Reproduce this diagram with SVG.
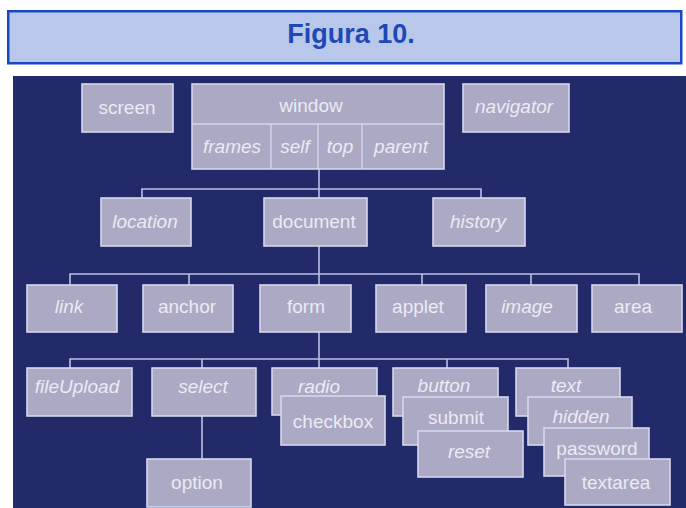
<svg xmlns="http://www.w3.org/2000/svg" width="686" height="508" viewBox="0 0 686 508">
<style>
.nb{fill:#aba9c3;stroke:#d4d7ee;stroke-width:1.6}
.t{font-family:"Liberation Sans",Arial,sans-serif;font-size:19px;fill:#eceaf4;text-anchor:middle}
.i{font-style:italic}
.c{stroke:#bcc0e4;stroke-width:1.6;fill:none}
.d{stroke:#d4d7ee;stroke-width:1.4}
</style>
<rect x="0" y="0" width="686" height="508" fill="#ffffff"/>
<g id="title">
<rect x="8.25" y="11.25" width="673" height="52" fill="#b8c7ea" stroke="#1848bf" stroke-width="2.5"/>
<text x="351" y="43" font-family="'Liberation Sans',Arial,sans-serif" font-size="27" font-weight="bold" fill="#1e49b4" text-anchor="middle">Figura 10.</text>
</g>
<rect x="13" y="76" width="673" height="432" fill="#232a6a"/>
<g id="connectors">
<path class="c" d="M319 169V198M142 198V189H481V198"/>
<path class="c" d="M319 246V285M70 285V274H639V285M189 274V285M422 274V285M531 274V285"/>
<path class="c" d="M319 332V368M70 368V359H568V368M202 359V368M447 359V368"/>
<path class="c" d="M202 416V459"/>
</g>
<g id="screen"><rect class="nb" x="82" y="84" width="91" height="48"/><text class="t" x="127" y="114">screen</text></g>
<g id="window">
<rect class="nb" x="192" y="84" width="252" height="85"/>
<line class="d" x1="192" y1="124" x2="444" y2="124"/>
<line class="d" x1="271" y1="124" x2="271" y2="169"/>
<line class="d" x1="318" y1="124" x2="318" y2="169"/>
<line class="d" x1="362" y1="124" x2="362" y2="169"/>
<text class="t" x="311" y="112">window</text>
<text class="t i" x="232" y="153">frames</text>
<text class="t i" x="295" y="153">self</text>
<text class="t i" x="340" y="153">top</text>
<text class="t i" x="401" y="153">parent</text>
</g>
<g id="navigator"><rect class="nb" x="463" y="84" width="106" height="48"/><text class="t i" x="514" y="113">navigator</text></g>
<g id="location"><rect class="nb" x="101" y="198" width="90" height="48"/><text class="t i" x="145" y="228">location</text></g>
<g id="document"><rect class="nb" x="264" y="198" width="103" height="48"/><text class="t" x="314" y="228">document</text></g>
<g id="history"><rect class="nb" x="433" y="198" width="92" height="48"/><text class="t i" x="478" y="228">history</text></g>
<g id="link"><rect class="nb" x="27" y="285" width="90" height="47"/><text class="t i" x="69" y="313">link</text></g>
<g id="anchor"><rect class="nb" x="143" y="285" width="90" height="47"/><text class="t" x="187" y="313">anchor</text></g>
<g id="form"><rect class="nb" x="260" y="285" width="91" height="47"/><text class="t" x="306" y="313">form</text></g>
<g id="applet"><rect class="nb" x="376" y="285" width="90" height="47"/><text class="t" x="418" y="313">applet</text></g>
<g id="image"><rect class="nb" x="486" y="285" width="91" height="47"/><text class="t i" x="527" y="313">image</text></g>
<g id="area"><rect class="nb" x="592" y="285" width="90" height="47"/><text class="t" x="633" y="313">area</text></g>
<g id="fileUpload"><rect class="nb" x="27" y="368" width="105" height="48"/><text class="t i" x="77" y="393">fileUpload</text></g>
<g id="select"><rect class="nb" x="152" y="368" width="104" height="48"/><text class="t i" x="203" y="393">select</text></g>
<g id="option"><rect class="nb" x="147" y="459" width="104" height="48"/><text class="t" x="197" y="489">option</text></g>
<g id="radio"><rect class="nb" x="272" y="368" width="105" height="47"/><text class="t i" x="319" y="393">radio</text></g>
<g id="checkbox"><rect class="nb" x="281" y="396" width="104" height="49"/><text class="t" x="333" y="428">checkbox</text></g>
<g id="button"><rect class="nb" x="393" y="368" width="105" height="48"/><text class="t i" x="444" y="392">button</text></g>
<g id="submit"><rect class="nb" x="403" y="397" width="105" height="48"/><text class="t" x="456" y="424">submit</text></g>
<g id="reset"><rect class="nb" x="418" y="431" width="105" height="46"/><text class="t i" x="469" y="458">reset</text></g>
<g id="text"><rect class="nb" x="516" y="368" width="104" height="48"/><text class="t i" x="566" y="392">text</text></g>
<g id="hidden"><rect class="nb" x="528" y="397" width="104" height="48"/><text class="t i" x="581" y="423">hidden</text></g>
<g id="password"><rect class="nb" x="544" y="428" width="105" height="48"/><text class="t" x="597" y="455">password</text></g>
<g id="textarea"><rect class="nb" x="565" y="459" width="105" height="46"/><text class="t" x="616" y="489">textarea</text></g>
</svg>
